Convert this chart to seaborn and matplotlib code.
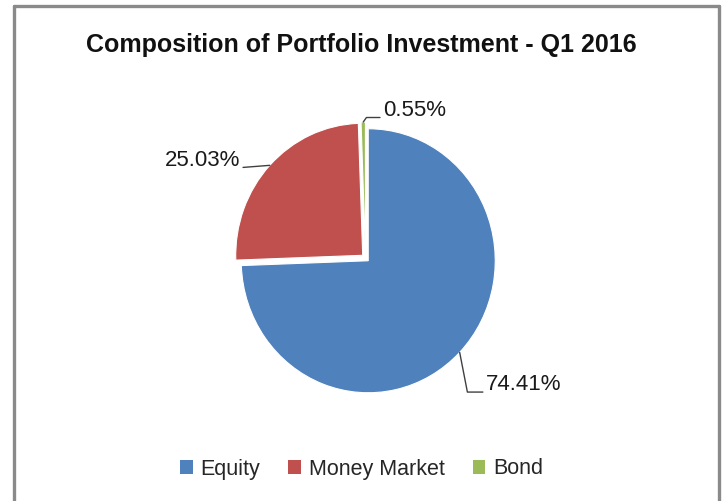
import matplotlib
matplotlib.use("Agg")

import matplotlib.pyplot as plt
import numpy as np
import seaborn as sns
from matplotlib.lines import Line2D
from matplotlib.patches import Patch

# data
categories = ["Equity", "Money Market", "Bond"]
shares = [74.41, 25.03, 0.55]
label_text = ["74.41%", "25.03%", "0.55%"]

sns.set_theme(style="white")
FONT = ["Liberation Sans Narrow", "Liberation Sans", "DejaVu Sans"]
plt.rcParams["font.family"] = FONT

colors = ["#4f81bd", "#c0504d", "#9bbb59"]
palette = sns.color_palette(colors)

fig = plt.figure(figsize=(7.23, 5.01), dpi=100)

# pie axes: centre at (365.5, 258) px, radius ~127 px wide, ~132 px tall
RX, RY = 127.0, 132.0
cx, cy = 365.5, 501 - 258
half = 200.0
ax = fig.add_axes([(cx - half) / 723, (cy - half) / 501, 2 * half / 723, 2 * half / 501])

wedges, _ = ax.pie(
    shares,
    colors=palette,
    startangle=90,
    counterclock=False,
    explode=[0.03, 0.03, 0.03],
    wedgeprops=dict(edgecolor="white", linewidth=0.8),
)
ax.set_aspect("auto")
ax.set_xlim(-half / RX, half / RX)
ax.set_ylim(-half / RY, half / RY)
ax.axis("off")

# outside labels with leader lines (text offsets in radius units)
label_pos = [(0.95, -0.96, "left"), (-0.99, 0.74, "right"), (0.14, 1.12, "left")]
leader = {
    "74.41%": "angle,angleA=0,angleB=-79,rad=0",
    "25.03%": "arc3,rad=0",
    "0.55%": "angle,angleA=0,angleB=55,rad=0",
}
for w, txt, (tx, ty, ha) in zip(wedges, label_text, label_pos):
    mid = np.deg2rad((w.theta1 + w.theta2) / 2)
    ex, ey = w.center
    px, py = ex + w.r * np.cos(mid), ey + w.r * np.sin(mid)
    relx = 0 if ha == "left" else 1
    ax.annotate(
        txt, xy=(px, py), xytext=(tx, ty), ha=ha, va="center",
        fontsize=16, color="#1a1a1a", family=FONT,
        arrowprops=dict(arrowstyle="-", color="#404040", lw=1.0,
                        connectionstyle=leader[txt], relpos=(relx, 0.15),
                        shrinkA=0, shrinkB=0),
        annotation_clip=False,
    )

fig.text(0.5, 1 - 45 / 501, "Composition of Portfolio Investment - Q1 2016",
         ha="center", va="center", fontsize=18, fontweight="bold",
         color="#111111", family=FONT)

handles = [Patch(facecolor=c, edgecolor="none") for c in palette]
fig.legend(handles, categories, loc="center", bbox_to_anchor=(0.5, 1 - 469 / 501),
           ncol=3, frameon=False, handlelength=0.6, handleheight=0.6,
           handletextpad=0.35, columnspacing=1.3, prop={"family": FONT, "size": 15.5})

# chart border (left, top, right edges only are inside the picture)
border = dict(color="#8a8a8a", lw=2.4, transform=fig.transFigure)
x0, x1 = 13.5 / 723, 718.5 / 723
y1 = 1 - 6 / 501
fig.add_artist(Line2D([x0, x0], [0, y1], **border))
fig.add_artist(Line2D([x0, x1], [y1, y1], **border))
fig.add_artist(Line2D([x1, x1], [0, y1], **border))

fig.savefig("out.png", dpi=100)
